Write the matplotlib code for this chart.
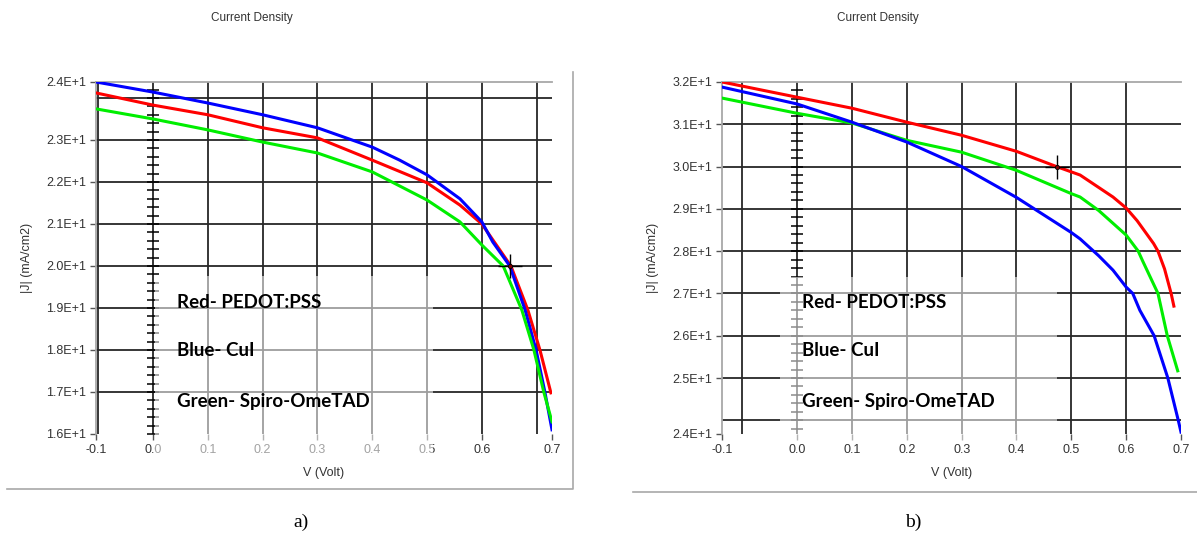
import matplotlib.pyplot as plt
import numpy as np
from matplotlib.patches import Rectangle
from matplotlib.lines import Line2D

W, H = 1197, 540

# ---- panel a) readings: V (Volt), |J| (mA/cm2) ----
a_v_red = [-0.104, 0.0, 0.1, 0.2, 0.3, 0.4, 0.5, 0.56, 0.6, 0.653, 0.684, 0.706, 0.726]
a_j_red = [24.12, 23.83, 23.6, 23.29, 23.05, 22.52, 21.98, 21.45, 21.0, 20.0, 18.95, 18.0, 16.98]
a_v_blue = [-0.104, 0.0, 0.1, 0.2, 0.3, 0.4, 0.45, 0.5, 0.56, 0.6, 0.62, 0.651, 0.679, 0.699, 0.715, 0.728]
a_j_blue = [24.38, 24.14, 23.88, 23.6, 23.29, 22.83, 22.52, 22.17, 21.6, 21.05, 20.57, 20.0, 18.95, 18.0, 17.0, 16.1]
a_v_green = [-0.104, 0.0, 0.1, 0.2, 0.3, 0.4, 0.5, 0.56, 0.6, 0.639, 0.673, 0.695, 0.713, 0.728]
a_j_green = [23.74, 23.5, 23.24, 22.95, 22.69, 22.24, 21.57, 21.05, 20.5, 20.0, 18.95, 18.0, 17.0, 16.29]
a_cursor = (0.651, 20.0)

# ---- panel b) readings ----
b_v_red = [-0.137, 0.0, 0.1, 0.2, 0.3, 0.4, 0.473, 0.516, 0.576, 0.6, 0.62, 0.65, 0.658, 0.67, 0.682, 0.687]
b_j_red = [32.0, 31.64, 31.38, 31.05, 30.74, 30.36, 30.0, 29.8, 29.28, 29.02, 28.72, 28.18, 28.0, 27.58, 27.0, 26.7]
b_v_blue = [-0.137, 0.0, 0.1, 0.2, 0.3, 0.4, 0.5, 0.516, 0.55, 0.576, 0.6, 0.612, 0.625, 0.651, 0.676, 0.695, 0.70]
b_j_blue = [31.88, 31.48, 31.05, 30.58, 30.0, 29.27, 28.44, 28.29, 27.89, 27.55, 27.15, 27.0, 26.6, 26.0, 25.0, 24.0, 23.72]
b_v_green = [-0.137, 0.0, 0.1, 0.2, 0.3, 0.4, 0.5, 0.516, 0.55, 0.6, 0.622, 0.63, 0.658, 0.675, 0.694]
b_j_green = [31.62, 31.26, 31.03, 30.62, 30.34, 29.91, 29.36, 29.28, 28.96, 28.38, 28.0, 27.77, 27.0, 26.0, 25.17]
b_cursor = (0.473, 30.0)

# axis tick labels as shown by the instrument software
a_xticks = [-0.104, 0.0, 0.1, 0.2, 0.3, 0.4, 0.5, 0.6, 0.728]
a_yticks = [16, 17, 18, 19, 20, 21, 22, 23, 24.38]
b_xticks = [-0.137, 0.0, 0.1, 0.2, 0.3, 0.4, 0.5, 0.6, 0.7]
b_yticks = [23.68, 25, 26, 27, 28, 29, 30, 31, 32]
x_labels = ["-0.1", "0.0", "0.1", "0.2", "0.3", "0.4", "0.5", "0.6", "0.7"]
a_ylabels = ["1.6E+1", "1.7E+1", "1.8E+1", "1.9E+1", "2.0E+1", "2.1E+1", "2.2E+1", "2.3E+1", "2.4E+1"]
b_ylabels = ["2.4E+1", "2.5E+1", "2.6E+1", "2.7E+1", "2.8E+1", "2.9E+1", "3.0E+1", "3.1E+1", "3.2E+1"]
legend_lines = ["Red- PEDOT:PSS", "Blue- CuI", "Green- Spiro-OmeTAD"]

RED, BLUE, GREEN = "#ff0000", "#0000ff", "#00ee00"
GRID = "#262626"
EDGE = "#a8a8a8"


def fig_box(x0, y0, x1, y1):
    return [x0 / W, 1 - y1 / H, (x1 - x0) / W, (y1 - y0) / H]


def setup_panel(ax, xlim, ylim, xgrid, ygrid, xticks, yticks, ylabels):
    ax.set_xlim(*xlim)
    ax.set_ylim(*ylim)
    ax.set_facecolor("white")
    for s in ("right", "bottom"):
        ax.spines[s].set_visible(False)
    for s in ("left", "top"):
        ax.spines[s].set_color(EDGE)
        ax.spines[s].set_linewidth(1.3)
    for x in xgrid:
        ax.axvline(x, color=GRID, lw=1.3, zorder=1)
    for y in ygrid:
        ax.axhline(y, color=GRID, lw=1.3, zorder=1)
    ax.set_xticks(xticks, x_labels)
    ax.set_yticks(yticks, ylabels)
    ax.tick_params(length=4, width=1, color="#555555", labelsize=9,
                   labelcolor="#333333", pad=3)
    for lab in ax.get_xticklabels() + ax.get_yticklabels():
        lab.set_family("Liberation Sans")
    # minor ticks along the zero-volt line
    yy = np.arange(np.ceil(ylim[0] / 0.2) * 0.2, ylim[1], 0.2)
    ax.plot(np.zeros_like(yy), yy, ls="none", marker="_", ms=9, mew=1.1,
            color="black", zorder=2, clip_on=False)


def draw_curves(ax, series, cursor):
    for v, j, c in series:
        ax.plot(v, j, color=c, lw=2.2, zorder=3, solid_joinstyle="round")
    ax.plot(*cursor, marker="+", ms=17, mew=1.0, color="black", zorder=4)
    ax.plot(*cursor, marker="o", ms=3, mfc="#800000", mec="black", mew=0.6, zorder=5)


fig = plt.figure(figsize=(W / 100, H / 100), dpi=100)

ax_a = fig.add_axes(fig_box(96, 82, 552, 434))
setup_panel(ax_a, (-0.104, 0.728), (16.0, 24.38),
            [-0.1, 0.0, 0.1, 0.2, 0.3, 0.4, 0.5, 0.6, 0.7],
            [17, 18, 19, 20, 21, 22, 23, 24],
            a_xticks, a_yticks, a_ylabels)
draw_curves(ax_a, [(a_v_red, a_j_red, RED), (a_v_blue, a_j_blue, BLUE),
                   (a_v_green, a_j_green, GREEN)], a_cursor)

ax_b = fig.add_axes(fig_box(722, 82, 1181, 434))
setup_panel(ax_b, (-0.137, 0.70), (23.676, 32.0),
            [-0.1, 0.0, 0.1, 0.2, 0.3, 0.4, 0.5, 0.6],
            [24, 25, 26, 27, 28, 29, 30, 31],
            b_xticks, b_yticks, b_ylabels)
draw_curves(ax_b, [(b_v_red, b_j_red, RED), (b_v_green, b_j_green, GREEN),
                   (b_v_blue, b_j_blue, BLUE)], b_cursor)

# washed-out legend boxes
for x0, y0, x1, y1 in [(155, 276, 433, 460), (780, 277, 1057, 442)]:
    fig.add_artist(Rectangle((x0 / W, 1 - y1 / H), (x1 - x0) / W, (y1 - y0) / H,
                             transform=fig.transFigure, facecolor="white",
                             edgecolor="none", alpha=0.55, zorder=1))

for x0 in (177, 802):
    for txt, yc in zip(legend_lines, (302, 351, 401)):
        fig.text(x0 / W, 1 - yc / H, txt, fontsize=13.5, fontweight="bold",
                 family="Lato", ha="left", va="center", zorder=3)

# titles, axis labels, captions
for xc, xl, yl in [(252, 324, 27), (878, 952, 653)]:
    fig.text(xc / W, 1 - 18 / H, "Current Density", fontsize=8.5,
             family="Liberation Sans", color="#333333", ha="center", va="center")
    fig.text(xl / W, 1 - 473 / H, "V (Volt)", fontsize=9,
             family="Liberation Sans", color="#333333", ha="center", va="center")
    fig.text(yl / W, 1 - 258 / H, "|J| (mA/cm2)", fontsize=9, rotation=90,
             family="Liberation Sans", color="#333333", ha="center", va="center")

fig.text(301 / W, 1 - 522 / H, "a)", fontsize=14, family="Liberation Serif",
         ha="center", va="center")
fig.text(913 / W, 1 - 522 / H, "b)", fontsize=14, family="Liberation Serif",
         ha="center", va="center")

# outer panel frames
fig.add_artist(Line2D([7 / W, 573 / W, 573 / W], [1 - 489 / H, 1 - 489 / H, 1 - 72 / H],
                      transform=fig.transFigure, color=EDGE, lw=1.2))
fig.add_artist(Line2D([633 / W, 1197 / W], [1 - 492 / H, 1 - 492 / H],
                      transform=fig.transFigure, color=EDGE, lw=1.2))

fig.savefig("out.png", dpi=100, facecolor="white")
